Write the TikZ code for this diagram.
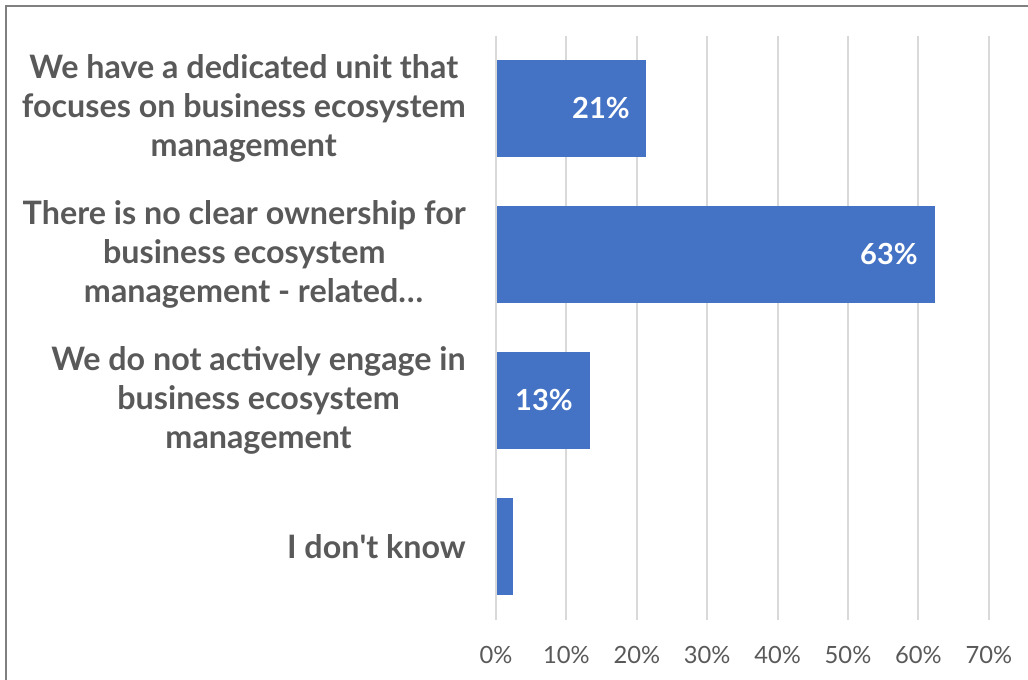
\documentclass[tikz,border=0pt]{standalone}
\usepackage{fontspec}
\setmainfont{Lato}
\usetikzlibrary{positioning}
\definecolor{mbar}{HTML}{4472C4}
\definecolor{mtext}{HTML}{595959}
\definecolor{mgrid}{HTML}{D9D9D9}
\definecolor{mframe}{HTML}{808080}
\tikzstyle{category} = [anchor=east, align=center, inner sep=0pt, text=mtext, font=\fontsize{24.2}{29.3}\selectfont\bfseries]
\tikzstyle{value} = [anchor=east, inner sep=0pt, text=white, font=\fontsize{21.8}{25}\selectfont\bfseries]
\tikzstyle{tick} = [anchor=center, inner sep=0pt, text=mtext, font=\fontsize{17.8}{21}\selectfont]
\tikzstyle{bar} = [fill=mbar]
\tikzstyle{grid} = [mgrid, line width=1.5pt]

\begin{document}
\begin{tikzpicture}[x=0.75pt, y=-0.75pt]
\useasboundingbox (0,0) rectangle (1028,680);
% frame
\draw [mframe, line width=1.5pt] (6,680) -- (6,6) -- (1028,6);
% grid lines and axis labels
\foreach \k/\lbl in {0/0,1/10,2/20,3/30,4/40,5/50,6/60,7/70} {
  \draw [grid] (496+70.4*\k,36) -- (496+70.4*\k,620);
  \node (tick\k) [tick] at (496+70.4*\k,655) {\lbl\%};
}
% bars
\fill [bar] (497,60) rectangle (646,157);
\fill [bar] (497,206) rectangle (935,303);
\fill [bar] (497,352) rectangle (590,449);
\fill [bar] (497,498) rectangle (513,595);
% values
\node (val1) [value] at (630,108.5) {21\%};
\node (val2) [value] at (918,254.5) {63\%};
\node (val3) [value] at (573,400.5) {13\%};
% categories
\node (cat1) [category] at (466,108.5) {We have a dedicated unit that\\focuses on business ecosystem\\management};
\node (cat2) [category] at (466,254.5) {There is no clear ownership for\\business ecosystem\\\hspace*{14pt}management - related…};
\node (cat3) [category] at (466,400.5) {We do not actively engage in\\business ecosystem\\management};
\node (cat4) [category] at (466,546.5) {I don\textquotesingle t know};
\end{tikzpicture}
\end{document}
